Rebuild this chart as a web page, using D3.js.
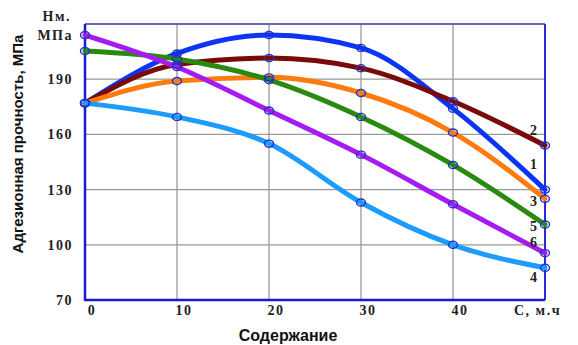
<!DOCTYPE html>
<html>
<head>
<meta charset="utf-8">
<script src="https://cdn.jsdelivr.net/npm/d3@7"></script>
<style>
  body { margin: 0; background: #fff; }
  svg { display: block; }
</style>
</head>
<body>
<svg width="578" height="345"></svg>
<script>
// содержание, м.ч
const content = [0, 10, 20, 30, 40, 50];

// адгезионная прочность, МПа (кривые 1-6)
const curve1 = [177, 204, 214, 207, 174, 130];
const curve2 = [177, 198, 201.5, 196, 178, 154];
const curve3 = [177, 189, 191, 182.5, 161, 125];
const curve4 = [177, 169.5, 155, 123, 100, 87.5];
const curve5 = [205.3, 201, 189.6, 169.5, 143.4, 111];
const curve6 = [214, 196.6, 173, 149, 122, 95.5];

const curveNames = ["1", "2", "3", "4", "5", "6"];
const curveColors = ["#0b34f5", "#7a0a0a", "#ff7b0f", "#1c9cff", "#2a8a10", "#a61cf0"];

const yTicks = [70, 100, 130, 160, 190];
const xTicks = [0, 10, 20, 30, 40];

const series = [curve1, curve2, curve3, curve4, curve5, curve6].map((vals, i) => ({
  name: curveNames[i],
  color: curveColors[i],
  points: vals.map((v, j) => [content[j], v])
}));

const margin = { left: 85, right: 33, top: 24, bottom: 45 };
const width = 578, height = 345;

const svg = d3.select("svg");

const x = d3.scaleLinear().domain([0, 50]).range([margin.left, width - margin.right]);
const y = d3.scaleLinear().domain([70, 220]).range([height - margin.bottom, margin.top]);

// сетка
svg.selectAll("line.hgrid")
  .data(yTicks.slice(1).concat([220]))
  .enter()
  .append("line")
  .attr("x1", x(0)).attr("x2", x(50))
  .attr("y1", d => y(d)).attr("y2", d => y(d))
  .attr("stroke", "#9a9a9a")
  .attr("stroke-width", 1.3);

svg.selectAll("line.vgrid")
  .data(xTicks.slice(1))
  .enter()
  .append("line")
  .attr("x1", d => x(d)).attr("x2", d => x(d))
  .attr("y1", y(70)).attr("y2", y(220))
  .attr("stroke", "#9a9a9a")
  .attr("stroke-width", 1.3);

// рамка
svg.append("line")
  .attr("x1", x(0)).attr("x2", x(50)).attr("y1", y(220)).attr("y2", y(220))
  .attr("stroke", "#5050b0").attr("stroke-width", 1.5);
svg.append("line")
  .attr("x1", x(50)).attr("x2", x(50)).attr("y1", y(220)).attr("y2", y(70))
  .attr("stroke", "#2a2ad8").attr("stroke-width", 2);
svg.append("line")
  .attr("x1", x(0)).attr("x2", x(0)).attr("y1", y(220)).attr("y2", y(70) + 1)
  .attr("stroke", "#1a1ad0").attr("stroke-width", 2.5);
svg.append("line")
  .attr("x1", x(0)).attr("x2", x(50)).attr("y1", y(70)).attr("y2", y(70))
  .attr("stroke", "#1a1ad0").attr("stroke-width", 2.5);

// кривые
const line = d3.line()
  .x(d => x(d[0]))
  .y(d => y(d[1]))
  .curve(d3.curveMonotoneX);

svg.selectAll("path.curve")
  .data(series)
  .enter()
  .append("path")
  .attr("d", d => line(d.points))
  .attr("fill", "none")
  .attr("stroke", d => d.color)
  .attr("stroke-width", 5)
  .attr("stroke-linecap", "round");

// маркеры точек
series.forEach(s => {
  svg.selectAll(null)
    .data(s.points)
    .enter()
    .append("ellipse")
    .attr("cx", d => x(d[0]))
    .attr("cy", d => y(d[1]))
    .attr("rx", 4.5)
    .attr("ry", 3.5)
    .attr("fill", "none")
    .attr("stroke", "#2232c8")
    .attr("stroke-width", 1.4);
});

// подписи кривых (сдвиг относительно конца кривой)
const labelShift = { "1": -26, "2": -15, "3": 2, "4": 9, "5": 1, "6": -11 };
const labelFont = "'Liberation Serif', 'DejaVu Serif', serif";
svg.selectAll("text.cname")
  .data(series)
  .enter()
  .append("text")
  .attr("x", x(50) - 8)
  .attr("y", d => y(d.points[d.points.length - 1][1]) + labelShift[d.name] + 5)
  .attr("text-anchor", "end")
  .attr("font-family", labelFont)
  .attr("font-weight", "bold")
  .attr("font-size", 14)
  .attr("fill", "#222")
  .text(d => d.name);

// подписи осей
const tickText = sel => sel
  .attr("font-family", labelFont)
  .attr("font-weight", "bold")
  .attr("font-size", 14)
  .attr("letter-spacing", 1.5)
  .attr("fill", "#222");

svg.selectAll("text.ytick")
  .data(yTicks)
  .enter()
  .append("text")
  .attr("x", 73)
  .attr("y", d => y(d) + 5)
  .attr("text-anchor", "end")
  .call(tickText)
  .text(d => d);

svg.selectAll("text.xtick")
  .data(xTicks)
  .enter()
  .append("text")
  .attr("x", d => x(d) + 7)
  .attr("y", 315)
  .attr("text-anchor", "middle")
  .call(tickText)
  .text(d => d);

svg.append("text")
  .attr("x", 514).attr("y", 315)
  .call(tickText)
  .text("С, м.ч");

svg.append("text")
  .attr("x", 71).attr("y", 21)
  .attr("text-anchor", "end")
  .call(tickText)
  .text("Нм.");

svg.append("text")
  .attr("x", 73).attr("y", 40)
  .attr("text-anchor", "end")
  .call(tickText)
  .text("МПа");

svg.append("text")
  .attr("transform", "translate(23,144) rotate(-90)")
  .attr("text-anchor", "middle")
  .attr("font-family", "'Liberation Sans', Arial, sans-serif")
  .attr("font-weight", "bold")
  .attr("font-size", 15)
  .attr("fill", "#111")
  .text("Адгезионная прочность, МПа");

svg.append("text")
  .attr("x", 288).attr("y", 341)
  .attr("text-anchor", "middle")
  .attr("font-family", "'Liberation Sans', Arial, sans-serif")
  .attr("font-weight", "bold")
  .attr("font-size", 16)
  .attr("fill", "#111")
  .text("Содержание");
</script>
</body>
</html>
